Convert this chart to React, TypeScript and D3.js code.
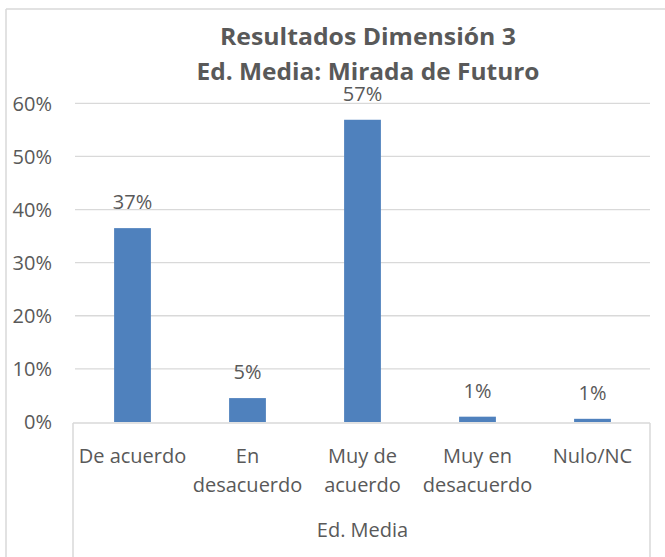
import React from "react";
import * as d3 from "d3";

const categories = [
  ["De acuerdo"],
  ["En", "desacuerdo"],
  ["Muy de", "acuerdo"],
  ["Muy en", "desacuerdo"],
  ["Nulo/NC"],
];
const values = [36.5, 4.5, 56.9, 1.0, 0.6];
const labels = ["37%", "5%", "57%", "1%", "1%"];
const yTicks = [0, 10, 20, 30, 40, 50, 60];
const groupLabel = "Ed. Media";
const titleLines = ["Resultados Dimensión 3", "Ed. Media: Mirada de Futuro"];

const W = 665;
const H = 557;
const plotLeft = 75;
const plotRight = 650;
const y0 = 422;
const y60 = 103.3;
const font = "'Open Sans', 'Noto Sans', sans-serif";
const textColor = "#595959";
const fs = 20;

export default function App() {
  const x = d3
    .scaleBand<number>()
    .domain(d3.range(categories.length))
    .range([plotLeft, plotRight])
    .paddingInner(0.68)
    .paddingOuter(0.34);
  const y = d3.scaleLinear().domain([0, 60]).range([y0, y60]);

  return (
    <svg
      width={W}
      height={H}
      style={{ position: "absolute", left: 0, top: 0, background: "#fff" }}
      fontFamily={font}
    >
      <rect x={0} y={0} width={W} height={H} fill="#fff" />
      {/* outer chart border */}
      <line x1={6} y1={9} x2={W} y2={9} stroke="#d9d9d9" strokeWidth={1.5} />
      <line x1={6} y1={9} x2={6} y2={H} stroke="#d9d9d9" strokeWidth={1.5} />

      {/* title */}
      {titleLines.map((t, i) => (
        <text
          key={i}
          x={368}
          y={45 + i * 35}
          textAnchor="middle"
          fontSize={24}
          fontWeight="bold"
          fill={textColor}
          textLength={i === 0 ? 296 : 343}
          lengthAdjust="spacingAndGlyphs"
        >
          {t}
        </text>
      ))}

      {/* gridlines */}
      {yTicks.map((t) =>
        t === 0 ? null : (
          <line
            key={t}
            x1={plotLeft}
            x2={plotRight}
            y1={y(t)}
            y2={y(t)}
            stroke="#d9d9d9"
            strokeWidth={1.3}
          />
        )
      )}
      {/* y tick labels */}
      {yTicks.map((t) => (
        <text
          key={"l" + t}
          x={52}
          y={y(t)}
          dy="0.36em"
          textAnchor="end"
          fontSize={fs}
          fill={textColor}
        >
          {t + "%"}
        </text>
      ))}

      {/* bars */}
      {values.map((v, i) => (
        <rect
          key={i}
          x={x(i)}
          y={y(v)}
          width={x.bandwidth()}
          height={y0 - y(v)}
          fill="#4f81bd"
        />
      ))}
      {/* data labels */}
      {values.map((v, i) => (
        <text
          key={"d" + i}
          x={(x(i) as number) + x.bandwidth() / 2}
          y={y(v) - 19}
          textAnchor="middle"
          fontSize={fs}
          fill={textColor}
        >
          {labels[i]}
        </text>
      ))}

      {/* category axis box */}
      <line x1={73} x2={plotRight} y1={y0 + 1} y2={y0 + 1} stroke="#d9d9d9" strokeWidth={1.5} />
      <line x1={73} x2={73} y1={y0 + 1} y2={H} stroke="#d9d9d9" strokeWidth={1.5} />
      <line x1={plotRight} x2={plotRight} y1={y0 + 1} y2={H} stroke="#d9d9d9" strokeWidth={1.5} />

      {/* category labels */}
      {categories.map((lines, i) => (
        <text
          key={"c" + i}
          x={(x(i) as number) + x.bandwidth() / 2}
          y={463}
          textAnchor="middle"
          fontSize={fs}
          fill={textColor}
        >
          {lines.map((ln, j) => (
            <tspan key={j} x={(x(i) as number) + x.bandwidth() / 2} dy={j === 0 ? 0 : 29}>
              {ln}
            </tspan>
          ))}
        </text>
      ))}
      <text
        x={(plotLeft + plotRight) / 2}
        y={537}
        textAnchor="middle"
        fontSize={fs}
        fill={textColor}
      >
        {groupLabel}
      </text>
    </svg>
  );
}
